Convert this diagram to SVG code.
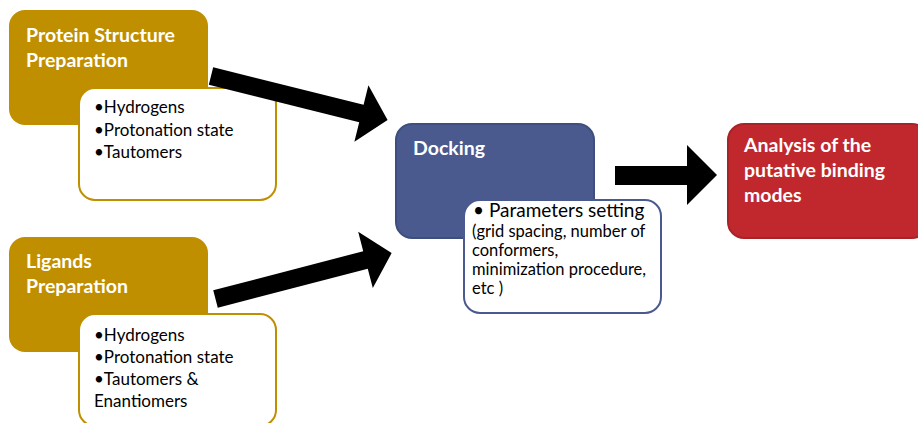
<svg xmlns="http://www.w3.org/2000/svg" width="918" height="423" viewBox="0 0 918 423">
<style>
.gold{fill:#BF8F00}
.sub-g{fill:#fff;stroke:#BF8F00;stroke-width:2}
.sub-b{fill:#fff;stroke:#4A5A8F;stroke-width:2}
.blue{fill:#4A5A8F;stroke:#3E4E7E;stroke-width:2}
.red{fill:#C0282D;stroke:#A82328;stroke-width:2}
text{font-family:Lato,"Liberation Sans",sans-serif}
.t{fill:#fff;font-weight:bold;font-size:19.5px}
.b{fill:#000;font-size:17px}
.p{fill:#000;font-size:19px}
.s{fill:#000;font-size:16.5px}
.arr{fill:#000}
</style>
<rect width="918" height="423" fill="#fff"/>
<g id="protein">
<rect class="gold" x="9" y="10" width="199" height="115" rx="16"/>
<text class="t" x="26" y="42">Protein Structure</text>
<text class="t" x="26" y="67">Preparation</text>
<rect class="sub-g" x="79" y="88" width="197" height="112" rx="16"/>
<text class="b" x="94" y="113">•Hydrogens</text>
<text class="b" x="94" y="136">•Protonation state</text>
<text class="b" x="94" y="158">•Tautomers</text>
</g>
<g id="ligands">
<rect class="gold" x="9" y="237" width="199" height="115" rx="16"/>
<text class="t" x="26" y="268">Ligands</text>
<text class="t" x="26" y="293">Preparation</text>
<rect class="sub-g" x="79" y="314" width="197" height="112" rx="16"/>
<text class="b" x="94" y="341">•Hydrogens</text>
<text class="b" x="94" y="363">•Protonation state</text>
<text class="b" x="94" y="385">•Tautomers &amp;</text>
<text class="b" x="94" y="407">Enantiomers</text>
</g>
<g id="docking">
<rect class="blue" x="396" y="124" width="198" height="114" rx="16"/>
<text class="t" x="413" y="155">Docking</text>
<rect class="sub-b" x="464" y="200" width="197" height="113" rx="16"/>
<text class="p" x="473" y="217">• Parameters setting</text>
<text class="s" x="472" y="237">(grid spacing, number of</text>
<text class="s" x="472" y="256">conformers,</text>
<text class="s" x="472" y="275">minimization procedure,</text>
<text class="s" x="472" y="294">etc )</text>
</g>
<g id="analysis">
<rect class="red" x="728" y="124" width="200" height="114" rx="16"/>
<text class="t" x="744" y="152">Analysis of the</text>
<text class="t" x="744" y="177">putative binding</text>
<text class="t" x="744" y="202">modes</text>
</g>
<g id="connectors">
<path class="arr" transform="translate(211,76) rotate(14)" d="M0,-9 L155,-9 L155,-29 L182,0 L155,29 L155,9 L0,9 Z"/>
<path class="arr" transform="translate(215.5,299) rotate(-14.6)" d="M0,-9 L155,-9 L155,-29 L182,0 L155,29 L155,9 L0,9 Z"/>
<path class="arr" d="M615,166 H687 V145 L717,175 L687,205 V185 H615 Z"/>
</g>
</svg>
